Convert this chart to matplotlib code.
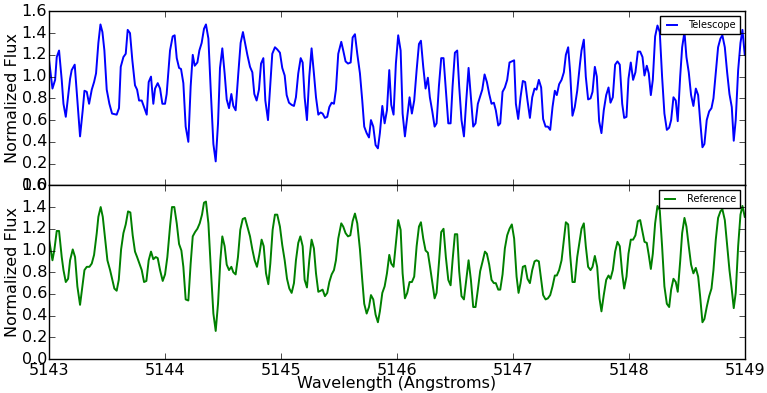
import numpy as np
import matplotlib
matplotlib.use('Agg')
import matplotlib.pyplot as plt

# telescope spectrum
tel_wave = np.array([
    5143.000, 5143.029, 5143.052, 5143.066, 5143.086, 5143.109, 5143.124, 5143.144,
    5143.181, 5143.195, 5143.221, 5143.267, 5143.290, 5143.305, 5143.325, 5143.345,
    5143.368, 5143.388, 5143.405, 5143.425, 5143.443, 5143.460, 5143.477, 5143.497,
    5143.520, 5143.543, 5143.583, 5143.603, 5143.618, 5143.641, 5143.661, 5143.678,
    5143.698, 5143.718, 5143.741, 5143.759, 5143.776, 5143.799, 5143.819, 5143.842,
    5143.859, 5143.879, 5143.899, 5143.914, 5143.937, 5143.957, 5143.977, 5144.000,
    5144.014, 5144.043, 5144.066, 5144.083, 5144.101, 5144.121, 5144.138, 5144.158,
    5144.178, 5144.201, 5144.221, 5144.239,
    5144.256, 5144.279, 5144.296, 5144.316, 5144.336, 5144.353, 5144.374, 5144.394,
    5144.417, 5144.437, 5144.457, 5144.474, 5144.494, 5144.514, 5144.532, 5144.552,
    5144.572, 5144.589, 5144.609, 5144.632, 5144.652, 5144.672, 5144.690, 5144.710,
    5144.733, 5144.753, 5144.770, 5144.790, 5144.810, 5144.828, 5144.848, 5144.865,
    5144.888, 5144.905, 5144.925, 5144.948, 5144.968, 5144.991, 5145.011, 5145.032,
    5145.049, 5145.069, 5145.092, 5145.112, 5145.129, 5145.149, 5145.170, 5145.187,
    5145.204, 5145.224, 5145.244, 5145.264, 5145.284, 5145.302, 5145.322, 5145.342,
    5145.359, 5145.379, 5145.399, 5145.417, 5145.437, 5145.457, 5145.474, 5145.494,
    5145.520, 5145.537, 5145.557, 5145.578, 5145.601, 5145.618, 5145.638, 5145.658,
    5145.681, 5145.701, 5145.718, 5145.739, 5145.759, 5145.776, 5145.796, 5145.816,
    5145.836, 5145.853, 5145.874, 5145.894, 5145.914, 5145.934,
    5145.951, 5145.971, 5145.991, 5146.011, 5146.032, 5146.049, 5146.069, 5146.089,
    5146.109, 5146.129, 5146.149, 5146.170, 5146.190, 5146.207, 5146.227, 5146.247,
    5146.267, 5146.284, 5146.305, 5146.325, 5146.342, 5146.362, 5146.382, 5146.402,
    5146.422, 5146.443, 5146.463, 5146.480, 5146.500, 5146.520, 5146.537, 5146.557,
    5146.578, 5146.598, 5146.618, 5146.638, 5146.658, 5146.678, 5146.698, 5146.716,
    5146.736, 5146.756, 5146.776, 5146.796, 5146.816, 5146.836, 5146.853, 5146.874,
    5146.891, 5146.911, 5146.931, 5146.951, 5146.971, 5146.991, 5147.011, 5147.026,
    5147.046, 5147.066, 5147.086, 5147.106, 5147.126, 5147.147, 5147.167, 5147.187,
    5147.204, 5147.224, 5147.244, 5147.261, 5147.282, 5147.302, 5147.322, 5147.342,
    5147.362, 5147.379, 5147.399, 5147.420, 5147.440, 5147.457, 5147.477, 5147.494,
    5147.514, 5147.534, 5147.555, 5147.578,
    5147.592, 5147.612, 5147.629, 5147.649, 5147.670, 5147.687, 5147.707, 5147.724,
    5147.744, 5147.764, 5147.784, 5147.805, 5147.825, 5147.842, 5147.862, 5147.882,
    5147.902, 5147.922, 5147.943, 5147.960, 5147.980, 5147.997, 5148.017, 5148.037,
    5148.057, 5148.078, 5148.098, 5148.118, 5148.135, 5148.155, 5148.172, 5148.190,
    5148.207, 5148.227, 5148.247, 5148.267, 5148.287, 5148.307, 5148.328, 5148.348,
    5148.365, 5148.385, 5148.405, 5148.422, 5148.443, 5148.460, 5148.480, 5148.497,
    5148.517, 5148.537, 5148.557, 5148.578, 5148.598, 5148.615, 5148.635, 5148.652,
    5148.672, 5148.693, 5148.713, 5148.730, 5148.750, 5148.770, 5148.790, 5148.807,
    5148.828, 5148.848, 5148.868, 5148.888, 5148.905, 5148.922, 5148.943, 5148.963,
    5148.980, 5149.000,
])
tel_flux = np.array([
    1.15, 0.89, 0.97, 1.18, 1.24, 0.97, 0.75, 0.63,
    0.98, 1.06, 1.11, 0.45, 0.69, 0.87, 0.86, 0.75,
    0.88, 0.95, 1.03, 1.31, 1.48, 1.41, 1.24, 0.88,
    0.75, 0.66, 0.65, 0.71, 1.09, 1.18, 1.21, 1.43,
    1.40, 1.15, 0.92, 0.88, 0.78, 0.78, 0.72, 0.65,
    0.95, 1.00, 0.75, 0.89, 0.94, 0.89, 0.75, 0.75,
    0.84, 1.24, 1.37, 1.38, 1.17, 1.08, 1.07, 0.94,
    0.54, 0.40, 0.91, 1.20,
    1.10, 1.13, 1.24, 1.31, 1.44, 1.48, 1.35, 0.88,
    0.38, 0.22, 0.57, 1.08, 1.26, 1.03, 0.79, 0.71,
    0.84, 0.73, 0.69, 1.03, 1.31, 1.41, 1.31, 1.20,
    1.09, 1.04, 0.84, 0.78, 0.88, 1.12, 1.17, 0.78,
    0.60, 0.88, 1.21, 1.27, 1.25, 1.22, 1.08, 1.01,
    0.83, 0.76, 0.74, 0.73, 0.81, 1.03, 1.17, 1.13,
    0.81, 0.60, 1.00, 1.26, 1.03, 0.81, 0.65, 0.67,
    0.66, 0.62, 0.63, 0.72, 0.76, 0.75, 0.88, 1.21,
    1.32, 1.24, 1.14, 1.12, 1.13, 1.36, 1.39, 1.21,
    1.03, 0.78, 0.54, 0.48, 0.44, 0.60, 0.54, 0.37,
    0.34, 0.48, 0.73, 0.57, 0.69, 1.06,
    0.74, 0.65, 1.12, 1.38, 1.24, 0.66, 0.45, 0.63,
    0.81, 0.66, 0.78, 1.06, 1.30, 1.33, 1.09, 0.89,
    0.99, 0.81, 0.68, 0.54, 0.57, 0.91, 1.17, 1.17,
    0.88, 0.57, 0.57, 0.91, 1.22, 1.24, 0.91, 0.60,
    0.45, 0.78, 1.08, 0.81, 0.54, 0.57, 0.75, 0.81,
    0.88, 1.02, 0.95, 0.84, 0.75, 0.76, 0.69, 0.55,
    0.57, 0.86, 0.90, 0.97, 1.13, 1.14, 1.15, 0.75,
    0.61, 0.81, 0.96, 0.95, 0.78, 0.62, 0.81, 0.89,
    0.88, 0.97, 0.90, 0.61, 0.54, 0.54, 0.51, 0.72,
    0.87, 0.83, 0.93, 0.97, 1.04, 1.20, 1.27, 1.04,
    0.64, 0.72, 0.87, 1.11,
    1.24, 1.34, 1.00, 0.79, 0.80, 0.86, 1.09, 1.00,
    0.59, 0.48, 0.69, 0.83, 0.90, 0.76, 0.81, 1.11,
    1.14, 1.11, 0.75, 0.62, 0.63, 0.98, 1.13, 0.97,
    1.04, 1.23, 1.23, 1.18, 1.01, 1.10, 1.03, 0.83,
    0.97, 1.37, 1.47, 1.41, 1.00, 0.66, 0.51, 0.53,
    0.60, 0.81, 0.78, 0.59, 1.00, 1.27, 1.41, 1.18,
    1.04, 0.83, 0.73, 0.89, 0.83, 0.60, 0.35, 0.38,
    0.60, 0.68, 0.71, 0.80, 1.03, 1.27, 1.35, 1.38,
    1.27, 1.04, 0.84, 0.72, 0.41, 0.60, 1.06, 1.31,
    1.43, 1.20,
])

# reference spectrum
ref_wave = np.array([
    5143.000, 5143.029, 5143.046, 5143.066, 5143.086, 5143.109, 5143.124, 5143.144,
    5143.164, 5143.181, 5143.204, 5143.224, 5143.244, 5143.267, 5143.287, 5143.305,
    5143.325, 5143.348, 5143.368, 5143.388, 5143.411, 5143.425, 5143.445, 5143.463,
    5143.483, 5143.503, 5143.526, 5143.546, 5143.563, 5143.583, 5143.601, 5143.621,
    5143.641, 5143.661, 5143.681, 5143.701, 5143.721, 5143.741, 5143.759, 5143.779,
    5143.799, 5143.819, 5143.839, 5143.859, 5143.879, 5143.899, 5143.920, 5143.937,
    5143.957, 5143.980, 5144.000, 5144.020, 5144.043, 5144.060, 5144.080, 5144.101,
    5144.121, 5144.141, 5144.158, 5144.178, 5144.201, 5144.221, 5144.239,
    5144.259, 5144.279, 5144.299, 5144.319, 5144.336, 5144.353, 5144.374, 5144.394,
    5144.417, 5144.437, 5144.457, 5144.477, 5144.494, 5144.514, 5144.532, 5144.552,
    5144.572, 5144.589, 5144.609, 5144.629, 5144.649, 5144.670, 5144.690, 5144.710,
    5144.733, 5144.753, 5144.773, 5144.793, 5144.813, 5144.833, 5144.851, 5144.871,
    5144.891, 5144.908, 5144.928, 5144.948, 5144.968, 5144.991, 5145.011, 5145.032,
    5145.052, 5145.072, 5145.092, 5145.112, 5145.129, 5145.149, 5145.167, 5145.187,
    5145.204, 5145.224, 5145.244, 5145.264, 5145.284, 5145.302, 5145.322, 5145.342,
    5145.359, 5145.379, 5145.399, 5145.417, 5145.437, 5145.457, 5145.474, 5145.494,
    5145.520, 5145.537, 5145.557, 5145.578, 5145.598, 5145.618, 5145.638, 5145.658,
    5145.681, 5145.701, 5145.718, 5145.739, 5145.759, 5145.776, 5145.796, 5145.816,
    5145.836, 5145.853, 5145.874, 5145.894, 5145.914, 5145.934,
    5145.951, 5145.971, 5145.991, 5146.011, 5146.032, 5146.049, 5146.069, 5146.089,
    5146.109, 5146.129, 5146.149, 5146.170, 5146.190, 5146.207, 5146.227, 5146.247,
    5146.267, 5146.287, 5146.325, 5146.342, 5146.362, 5146.382, 5146.402, 5146.422,
    5146.443, 5146.463, 5146.480, 5146.500, 5146.520, 5146.537, 5146.557, 5146.578,
    5146.598, 5146.618, 5146.638, 5146.658, 5146.678, 5146.698, 5146.718, 5146.739,
    5146.759, 5146.776, 5146.796, 5146.816, 5146.836, 5146.853, 5146.874, 5146.891,
    5146.911, 5146.931, 5146.951, 5146.971, 5146.991, 5147.011, 5147.032, 5147.049,
    5147.066, 5147.086, 5147.106, 5147.126, 5147.147, 5147.167, 5147.187, 5147.204,
    5147.224, 5147.244, 5147.261, 5147.282, 5147.302, 5147.322, 5147.342, 5147.362,
    5147.379, 5147.399, 5147.420, 5147.440, 5147.457, 5147.477, 5147.494, 5147.514,
    5147.534, 5147.555, 5147.578,
    5147.592, 5147.612, 5147.629, 5147.649, 5147.670, 5147.687, 5147.707, 5147.727,
    5147.747, 5147.764, 5147.784, 5147.805, 5147.825, 5147.842, 5147.862, 5147.882,
    5147.902, 5147.922, 5147.943, 5147.960, 5147.980, 5147.997, 5148.017, 5148.037,
    5148.057, 5148.078, 5148.098, 5148.118, 5148.135, 5148.155, 5148.172, 5148.190,
    5148.207, 5148.227, 5148.247, 5148.267, 5148.287, 5148.307, 5148.328, 5148.348,
    5148.365, 5148.385, 5148.405, 5148.422, 5148.443, 5148.460, 5148.480, 5148.497,
    5148.517, 5148.537, 5148.557, 5148.578, 5148.598, 5148.615, 5148.635, 5148.652,
    5148.672, 5148.693, 5148.713, 5148.730, 5148.750, 5148.770, 5148.790, 5148.807,
    5148.828, 5148.848, 5148.868, 5148.888, 5148.905, 5148.922, 5148.943, 5148.963,
    5148.980, 5149.000,
])
ref_flux = np.array([
    1.10, 0.91, 1.01, 1.18, 1.18, 0.94, 0.82, 0.71,
    0.74, 0.91, 1.01, 0.94, 0.67, 0.50, 0.67, 0.82,
    0.85, 0.85, 0.88, 0.96, 1.16, 1.31, 1.40, 1.31,
    1.11, 0.91, 0.82, 0.73, 0.65, 0.63, 0.73, 1.01,
    1.16, 1.24, 1.36, 1.35, 1.14, 0.99, 0.94, 0.88,
    0.82, 0.71, 0.72, 0.91, 0.99, 0.92, 0.94, 0.93,
    0.82, 0.72, 0.78, 0.94, 1.22, 1.40, 1.40, 1.25,
    1.06, 1.00, 0.85, 0.55, 0.54, 0.88, 1.13,
    1.17, 1.20, 1.25, 1.33, 1.44, 1.45, 1.25, 0.85,
    0.42, 0.26, 0.51, 0.91, 1.13, 1.04, 0.87, 0.82,
    0.85, 0.80, 0.78, 0.94, 1.19, 1.29, 1.30, 1.22,
    1.13, 1.01, 0.91, 0.85, 0.96, 1.10, 1.04, 0.79,
    0.69, 0.88, 1.19, 1.33, 1.33, 1.22, 1.05, 0.91,
    0.74, 0.65, 0.61, 0.70, 0.91, 1.07, 1.13, 1.04,
    0.73, 0.66, 0.91, 1.10, 1.02, 0.79, 0.62, 0.63,
    0.64, 0.58, 0.61, 0.71, 0.78, 0.82, 0.91, 1.11,
    1.25, 1.22, 1.16, 1.13, 1.14, 1.27, 1.34, 1.25,
    1.01, 0.73, 0.51, 0.42, 0.48, 0.59, 0.55, 0.41,
    0.34, 0.44, 0.61, 0.67, 0.79, 0.96,
    0.88, 0.85, 1.07, 1.28, 1.19, 0.79, 0.56, 0.61,
    0.71, 0.71, 0.76, 1.04, 1.22, 1.26, 1.11, 1.00,
    0.98, 0.84, 0.56, 0.61, 0.88, 1.17, 1.20, 0.94,
    0.73, 0.68, 0.91, 1.15, 1.15, 0.81, 0.58, 0.55,
    0.73, 0.91, 0.73, 0.48, 0.48, 0.64, 0.81, 0.90,
    0.99, 0.97, 0.87, 0.73, 0.70, 0.70, 0.64, 0.64,
    0.78, 1.02, 1.14, 1.20, 1.24, 1.11, 0.76, 0.61,
    0.70, 0.85, 0.86, 0.74, 0.70, 0.82, 0.90, 0.91,
    0.90, 0.73, 0.59, 0.55, 0.56, 0.59, 0.67, 0.77,
    0.77, 0.82, 0.91, 1.10, 1.26, 1.24, 0.96, 0.71,
    0.71, 0.94, 1.10,
    1.20, 1.25, 1.04, 0.85, 0.82, 0.85, 0.95, 0.85,
    0.56, 0.44, 0.59, 0.73, 0.77, 0.74, 0.82, 0.99,
    1.08, 1.04, 0.79, 0.65, 0.76, 0.97, 1.10, 1.10,
    1.14, 1.27, 1.28, 1.17, 1.08, 1.07, 0.96, 0.83,
    0.97, 1.25, 1.41, 1.37, 1.04, 0.67, 0.51, 0.48,
    0.64, 0.74, 0.71, 0.62, 0.90, 1.16, 1.30, 1.22,
    1.04, 0.87, 0.79, 0.84, 0.76, 0.58, 0.34, 0.37,
    0.48, 0.58, 0.65, 0.82, 1.10, 1.30, 1.36, 1.38,
    1.28, 1.05, 0.82, 0.64, 0.47, 0.61, 1.04, 1.33,
    1.41, 1.31,
])

x_ticks = [5143, 5144, 5145, 5146, 5147, 5148, 5149]
y_ticks = [0.0, 0.2, 0.4, 0.6, 0.8, 1.0, 1.2, 1.4, 1.6]

plt.style.use('classic')
plt.rcParams['font.size'] = 11.5
plt.rcParams['xtick.major.pad'] = 2.5
plt.rcParams['ytick.major.pad'] = 1.5

fig, (ax1, ax2) = plt.subplots(2, 1, sharex=True, figsize=(7.67, 3.93), dpi=100,
                               facecolor='white')
fig.subplots_adjust(left=0.064, right=0.971, top=0.971, bottom=0.086, hspace=0)

ax1.plot(tel_wave, tel_flux, color='b', lw=1.4, label='Telescope')
ax2.plot(ref_wave, ref_flux, color='g', lw=1.4, label='Reference')

for ax in (ax1, ax2):
    ax.set_xlim(5143, 5149)
    ax.set_ylim(0, 1.6)
    ax.set_yticks(y_ticks)
    ax.set_xticks(x_ticks)
    ax.set_ylabel('Normalized Flux', labelpad=1)
    ax.legend(loc='upper right', fontsize=7, handlelength=1.6, handletextpad=0.9,
              borderpad=0.4, borderaxespad=0.5)

ax2.set_xlabel('Wavelength (Angstroms)', labelpad=-1)
ax2.xaxis.set_major_formatter(matplotlib.ticker.FormatStrFormatter('%d'))

fig.savefig('out.png', dpi=100, facecolor='white')
